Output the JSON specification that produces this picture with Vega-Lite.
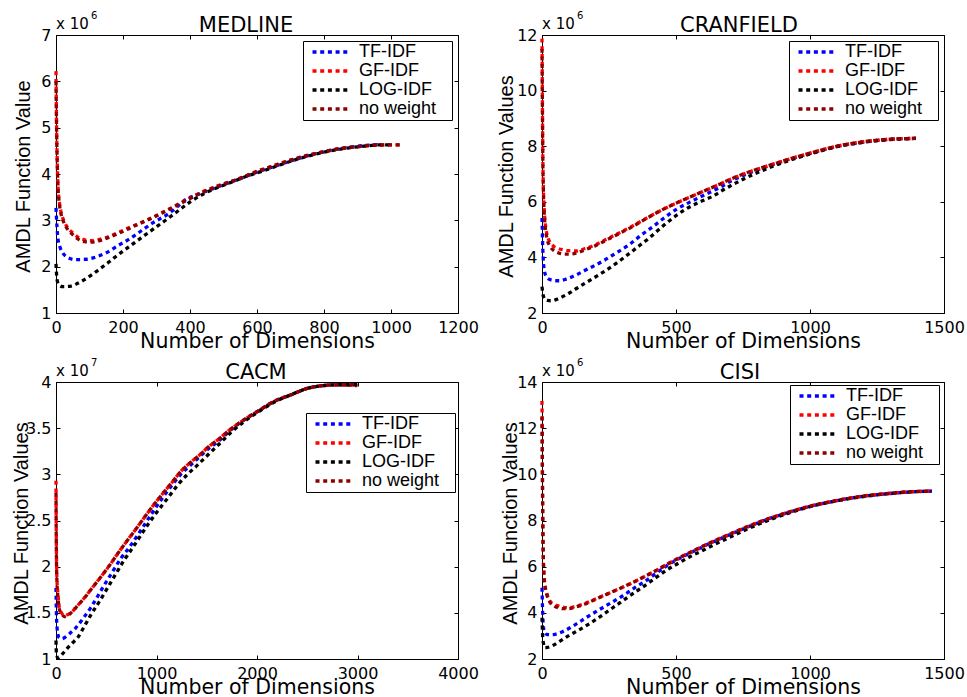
{
"$schema": "https://vega.github.io/schema/vega-lite/v6.json",
"background": "white",
"padding": {"left": 10, "top": 10, "right": 5, "bottom": 0},
"columns": 2,
"spacing": {"row": 69, "column": 84},
"bounds": "flush",
"datasets": {
"medline": [
{"method":"TF-IDF","x":0,"y":3.27},{"method":"TF-IDF","x":3,"y":2.85},{"method":"TF-IDF","x":6,"y":2.6},{"method":"TF-IDF","x":12,"y":2.42},{"method":"TF-IDF","x":20,"y":2.3},{"method":"TF-IDF","x":35,"y":2.2},{"method":"TF-IDF","x":60,"y":2.15},{"method":"TF-IDF","x":90,"y":2.16},{"method":"TF-IDF","x":120,"y":2.21},{"method":"TF-IDF","x":150,"y":2.3},{"method":"TF-IDF","x":184,"y":2.45},{"method":"TF-IDF","x":220,"y":2.6},{"method":"TF-IDF","x":254,"y":2.77},{"method":"TF-IDF","x":290,"y":2.95},{"method":"TF-IDF","x":333,"y":3.13},{"method":"TF-IDF","x":360,"y":3.28},{"method":"TF-IDF","x":383,"y":3.43},{"method":"TF-IDF","x":420,"y":3.55},{"method":"TF-IDF","x":460,"y":3.66},{"method":"TF-IDF","x":500,"y":3.77},{"method":"TF-IDF","x":550,"y":3.9},{"method":"TF-IDF","x":600,"y":4.04},{"method":"TF-IDF","x":650,"y":4.16},{"method":"TF-IDF","x":700,"y":4.28},{"method":"TF-IDF","x":750,"y":4.39},{"method":"TF-IDF","x":800,"y":4.48},{"method":"TF-IDF","x":850,"y":4.55},{"method":"TF-IDF","x":900,"y":4.6},{"method":"TF-IDF","x":950,"y":4.63},{"method":"TF-IDF","x":970,"y":4.64},
{"method":"GF-IDF","x":0,"y":6.22},{"method":"GF-IDF","x":1,"y":5.5},{"method":"GF-IDF","x":2,"y":4.9},{"method":"GF-IDF","x":4,"y":4.2},{"method":"GF-IDF","x":6,"y":3.75},{"method":"GF-IDF","x":10,"y":3.4},{"method":"GF-IDF","x":15,"y":3.18},{"method":"GF-IDF","x":25,"y":2.97},{"method":"GF-IDF","x":35,"y":2.84},{"method":"GF-IDF","x":50,"y":2.73},{"method":"GF-IDF","x":65,"y":2.64},{"method":"GF-IDF","x":85,"y":2.58},{"method":"GF-IDF","x":104,"y":2.56},{"method":"GF-IDF","x":130,"y":2.59},{"method":"GF-IDF","x":154,"y":2.64},{"method":"GF-IDF","x":184,"y":2.73},{"method":"GF-IDF","x":214,"y":2.83},{"method":"GF-IDF","x":250,"y":2.94},{"method":"GF-IDF","x":284,"y":3.05},{"method":"GF-IDF","x":320,"y":3.18},{"method":"GF-IDF","x":363,"y":3.34},{"method":"GF-IDF","x":400,"y":3.48},{"method":"GF-IDF","x":433,"y":3.6},{"method":"GF-IDF","x":470,"y":3.71},{"method":"GF-IDF","x":500,"y":3.79},{"method":"GF-IDF","x":532,"y":3.86},{"method":"GF-IDF","x":572,"y":3.98},{"method":"GF-IDF","x":600,"y":4.06},{"method":"GF-IDF","x":650,"y":4.18},{"method":"GF-IDF","x":700,"y":4.3},{"method":"GF-IDF","x":750,"y":4.4},{"method":"GF-IDF","x":800,"y":4.48},{"method":"GF-IDF","x":850,"y":4.55},{"method":"GF-IDF","x":900,"y":4.59},{"method":"GF-IDF","x":950,"y":4.62},{"method":"GF-IDF","x":1000,"y":4.63},{"method":"GF-IDF","x":1030,"y":4.63},
{"method":"LOG-IDF","x":0,"y":2.06},{"method":"LOG-IDF","x":2,"y":1.8},{"method":"LOG-IDF","x":5,"y":1.66},{"method":"LOG-IDF","x":10,"y":1.6},{"method":"LOG-IDF","x":20,"y":1.57},{"method":"LOG-IDF","x":45,"y":1.58},{"method":"LOG-IDF","x":65,"y":1.64},{"method":"LOG-IDF","x":85,"y":1.72},{"method":"LOG-IDF","x":110,"y":1.84},{"method":"LOG-IDF","x":134,"y":1.97},{"method":"LOG-IDF","x":160,"y":2.11},{"method":"LOG-IDF","x":184,"y":2.25},{"method":"LOG-IDF","x":220,"y":2.44},{"method":"LOG-IDF","x":254,"y":2.62},{"method":"LOG-IDF","x":290,"y":2.81},{"method":"LOG-IDF","x":323,"y":2.98},{"method":"LOG-IDF","x":360,"y":3.18},{"method":"LOG-IDF","x":403,"y":3.41},{"method":"LOG-IDF","x":440,"y":3.57},{"method":"LOG-IDF","x":483,"y":3.71},{"method":"LOG-IDF","x":530,"y":3.84},{"method":"LOG-IDF","x":572,"y":3.96},{"method":"LOG-IDF","x":620,"y":4.07},{"method":"LOG-IDF","x":670,"y":4.2},{"method":"LOG-IDF","x":720,"y":4.32},{"method":"LOG-IDF","x":770,"y":4.42},{"method":"LOG-IDF","x":820,"y":4.5},{"method":"LOG-IDF","x":870,"y":4.56},{"method":"LOG-IDF","x":920,"y":4.6},{"method":"LOG-IDF","x":970,"y":4.63},{"method":"LOG-IDF","x":1000,"y":4.63},
{"method":"no weight","x":0,"y":6.0},{"method":"no weight","x":1,"y":5.4},{"method":"no weight","x":2,"y":4.85},{"method":"no weight","x":4,"y":4.15},{"method":"no weight","x":6,"y":3.72},{"method":"no weight","x":10,"y":3.36},{"method":"no weight","x":15,"y":3.14},{"method":"no weight","x":25,"y":2.93},{"method":"no weight","x":35,"y":2.8},{"method":"no weight","x":50,"y":2.69},{"method":"no weight","x":65,"y":2.6},{"method":"no weight","x":85,"y":2.54},{"method":"no weight","x":104,"y":2.53},{"method":"no weight","x":130,"y":2.56},{"method":"no weight","x":154,"y":2.62},{"method":"no weight","x":184,"y":2.71},{"method":"no weight","x":214,"y":2.81},{"method":"no weight","x":250,"y":2.93},{"method":"no weight","x":284,"y":3.04},{"method":"no weight","x":320,"y":3.17},{"method":"no weight","x":363,"y":3.33},{"method":"no weight","x":400,"y":3.47},{"method":"no weight","x":433,"y":3.59},{"method":"no weight","x":470,"y":3.7},{"method":"no weight","x":500,"y":3.78},{"method":"no weight","x":532,"y":3.86},{"method":"no weight","x":572,"y":3.97},{"method":"no weight","x":600,"y":4.05},{"method":"no weight","x":650,"y":4.18},{"method":"no weight","x":700,"y":4.3},{"method":"no weight","x":750,"y":4.4},{"method":"no weight","x":800,"y":4.48},{"method":"no weight","x":850,"y":4.55},{"method":"no weight","x":900,"y":4.59},{"method":"no weight","x":950,"y":4.62},{"method":"no weight","x":1000,"y":4.63},{"method":"no weight","x":1030,"y":4.63}
],
"cranfield": [
{"method":"TF-IDF","x":0,"y":5.42},{"method":"TF-IDF","x":3,"y":4.3},{"method":"TF-IDF","x":6,"y":3.75},{"method":"TF-IDF","x":9,"y":3.51},{"method":"TF-IDF","x":15,"y":3.33},{"method":"TF-IDF","x":27,"y":3.21},{"method":"TF-IDF","x":45,"y":3.17},{"method":"TF-IDF","x":65,"y":3.16},{"method":"TF-IDF","x":90,"y":3.22},{"method":"TF-IDF","x":127,"y":3.37},{"method":"TF-IDF","x":170,"y":3.58},{"method":"TF-IDF","x":226,"y":3.86},{"method":"TF-IDF","x":270,"y":4.12},{"method":"TF-IDF","x":326,"y":4.46},{"method":"TF-IDF","x":370,"y":4.8},{"method":"TF-IDF","x":413,"y":5.1},{"method":"TF-IDF","x":460,"y":5.45},{"method":"TF-IDF","x":500,"y":5.72},{"method":"TF-IDF","x":550,"y":5.98},{"method":"TF-IDF","x":600,"y":6.22},{"method":"TF-IDF","x":660,"y":6.5},{"method":"TF-IDF","x":712,"y":6.78},{"method":"TF-IDF","x":780,"y":7.06},{"method":"TF-IDF","x":854,"y":7.32},{"method":"TF-IDF","x":920,"y":7.52},{"method":"TF-IDF","x":1000,"y":7.74},{"method":"TF-IDF","x":1100,"y":7.99},{"method":"TF-IDF","x":1200,"y":8.15},{"method":"TF-IDF","x":1300,"y":8.25},{"method":"TF-IDF","x":1395,"y":8.28},
{"method":"GF-IDF","x":0,"y":11.87},{"method":"GF-IDF","x":1,"y":10.5},{"method":"GF-IDF","x":2,"y":9.0},{"method":"GF-IDF","x":3,"y":7.8},{"method":"GF-IDF","x":5,"y":6.6},{"method":"GF-IDF","x":8,"y":5.8},{"method":"GF-IDF","x":12,"y":5.25},{"method":"GF-IDF","x":18,"y":4.85},{"method":"GF-IDF","x":28,"y":4.58},{"method":"GF-IDF","x":40,"y":4.43},{"method":"GF-IDF","x":60,"y":4.32},{"method":"GF-IDF","x":80,"y":4.27},{"method":"GF-IDF","x":100,"y":4.24},{"method":"GF-IDF","x":127,"y":4.23},{"method":"GF-IDF","x":160,"y":4.32},{"method":"GF-IDF","x":201,"y":4.46},{"method":"GF-IDF","x":240,"y":4.65},{"method":"GF-IDF","x":288,"y":4.88},{"method":"GF-IDF","x":340,"y":5.14},{"method":"GF-IDF","x":388,"y":5.4},{"method":"GF-IDF","x":440,"y":5.67},{"method":"GF-IDF","x":500,"y":5.95},{"method":"GF-IDF","x":550,"y":6.16},{"method":"GF-IDF","x":600,"y":6.37},{"method":"GF-IDF","x":660,"y":6.62},{"method":"GF-IDF","x":712,"y":6.85},{"method":"GF-IDF","x":780,"y":7.1},{"method":"GF-IDF","x":854,"y":7.33},{"method":"GF-IDF","x":920,"y":7.53},{"method":"GF-IDF","x":1000,"y":7.75},{"method":"GF-IDF","x":1100,"y":8.0},{"method":"GF-IDF","x":1200,"y":8.16},{"method":"GF-IDF","x":1300,"y":8.25},{"method":"GF-IDF","x":1395,"y":8.28},
{"method":"LOG-IDF","x":0,"y":2.95},{"method":"LOG-IDF","x":3,"y":2.7},{"method":"LOG-IDF","x":7,"y":2.55},{"method":"LOG-IDF","x":12,"y":2.48},{"method":"LOG-IDF","x":21,"y":2.45},{"method":"LOG-IDF","x":35,"y":2.44},{"method":"LOG-IDF","x":52,"y":2.48},{"method":"LOG-IDF","x":75,"y":2.58},{"method":"LOG-IDF","x":102,"y":2.72},{"method":"LOG-IDF","x":130,"y":2.89},{"method":"LOG-IDF","x":164,"y":3.09},{"method":"LOG-IDF","x":210,"y":3.36},{"method":"LOG-IDF","x":251,"y":3.61},{"method":"LOG-IDF","x":300,"y":3.95},{"method":"LOG-IDF","x":351,"y":4.33},{"method":"LOG-IDF","x":400,"y":4.7},{"method":"LOG-IDF","x":450,"y":5.12},{"method":"LOG-IDF","x":500,"y":5.5},{"method":"LOG-IDF","x":537,"y":5.74},{"method":"LOG-IDF","x":590,"y":6.0},{"method":"LOG-IDF","x":637,"y":6.2},{"method":"LOG-IDF","x":680,"y":6.45},{"method":"LOG-IDF","x":724,"y":6.68},{"method":"LOG-IDF","x":780,"y":6.95},{"method":"LOG-IDF","x":854,"y":7.25},{"method":"LOG-IDF","x":920,"y":7.48},{"method":"LOG-IDF","x":1000,"y":7.72},{"method":"LOG-IDF","x":1100,"y":7.98},{"method":"LOG-IDF","x":1200,"y":8.14},{"method":"LOG-IDF","x":1300,"y":8.24},{"method":"LOG-IDF","x":1395,"y":8.28},
{"method":"no weight","x":0,"y":11.5},{"method":"no weight","x":1,"y":10.2},{"method":"no weight","x":2,"y":8.8},{"method":"no weight","x":3,"y":7.6},{"method":"no weight","x":5,"y":6.45},{"method":"no weight","x":8,"y":5.65},{"method":"no weight","x":12,"y":5.1},{"method":"no weight","x":18,"y":4.7},{"method":"no weight","x":28,"y":4.43},{"method":"no weight","x":40,"y":4.28},{"method":"no weight","x":60,"y":4.17},{"method":"no weight","x":80,"y":4.12},{"method":"no weight","x":100,"y":4.12},{"method":"no weight","x":127,"y":4.15},{"method":"no weight","x":160,"y":4.27},{"method":"no weight","x":201,"y":4.43},{"method":"no weight","x":240,"y":4.62},{"method":"no weight","x":288,"y":4.86},{"method":"no weight","x":340,"y":5.12},{"method":"no weight","x":388,"y":5.39},{"method":"no weight","x":440,"y":5.67},{"method":"no weight","x":500,"y":5.95},{"method":"no weight","x":550,"y":6.16},{"method":"no weight","x":600,"y":6.37},{"method":"no weight","x":660,"y":6.62},{"method":"no weight","x":712,"y":6.85},{"method":"no weight","x":780,"y":7.1},{"method":"no weight","x":854,"y":7.33},{"method":"no weight","x":920,"y":7.53},{"method":"no weight","x":1000,"y":7.75},{"method":"no weight","x":1100,"y":8.0},{"method":"no weight","x":1200,"y":8.16},{"method":"no weight","x":1300,"y":8.25},{"method":"no weight","x":1395,"y":8.28}
],
"cacm": [
{"method":"TF-IDF","x":0,"y":1.77},{"method":"TF-IDF","x":5,"y":1.45},{"method":"TF-IDF","x":12,"y":1.32},{"method":"TF-IDF","x":20,"y":1.26},{"method":"TF-IDF","x":33,"y":1.23},{"method":"TF-IDF","x":60,"y":1.22},{"method":"TF-IDF","x":83,"y":1.23},{"method":"TF-IDF","x":140,"y":1.28},{"method":"TF-IDF","x":199,"y":1.34},{"method":"TF-IDF","x":270,"y":1.44},{"method":"TF-IDF","x":348,"y":1.56},{"method":"TF-IDF","x":410,"y":1.67},{"method":"TF-IDF","x":480,"y":1.8},{"method":"TF-IDF","x":560,"y":1.94},{"method":"TF-IDF","x":646,"y":2.09},{"method":"TF-IDF","x":730,"y":2.21},{"method":"TF-IDF","x":811,"y":2.34},{"method":"TF-IDF","x":890,"y":2.47},{"method":"TF-IDF","x":980,"y":2.62},{"method":"TF-IDF","x":1076,"y":2.77},{"method":"TF-IDF","x":1160,"y":2.89},{"method":"TF-IDF","x":1241,"y":3.0},{"method":"TF-IDF","x":1340,"y":3.1},{"method":"TF-IDF","x":1440,"y":3.2},{"method":"TF-IDF","x":1520,"y":3.28},{"method":"TF-IDF","x":1606,"y":3.35},{"method":"TF-IDF","x":1738,"y":3.48},{"method":"TF-IDF","x":1870,"y":3.59},{"method":"TF-IDF","x":2003,"y":3.68},{"method":"TF-IDF","x":2170,"y":3.79},{"method":"TF-IDF","x":2334,"y":3.86},{"method":"TF-IDF","x":2500,"y":3.93},{"method":"TF-IDF","x":2650,"y":3.96},{"method":"TF-IDF","x":2800,"y":3.97},{"method":"TF-IDF","x":2950,"y":3.97},
{"method":"GF-IDF","x":0,"y":2.93},{"method":"GF-IDF","x":2,"y":2.5},{"method":"GF-IDF","x":5,"y":2.1},{"method":"GF-IDF","x":10,"y":1.85},{"method":"GF-IDF","x":20,"y":1.7},{"method":"GF-IDF","x":33,"y":1.56},{"method":"GF-IDF","x":55,"y":1.5},{"method":"GF-IDF","x":83,"y":1.47},{"method":"GF-IDF","x":115,"y":1.48},{"method":"GF-IDF","x":149,"y":1.5},{"method":"GF-IDF","x":200,"y":1.56},{"method":"GF-IDF","x":281,"y":1.66},{"method":"GF-IDF","x":360,"y":1.77},{"method":"GF-IDF","x":447,"y":1.89},{"method":"GF-IDF","x":530,"y":2.01},{"method":"GF-IDF","x":613,"y":2.14},{"method":"GF-IDF","x":700,"y":2.27},{"method":"GF-IDF","x":790,"y":2.4},{"method":"GF-IDF","x":877,"y":2.53},{"method":"GF-IDF","x":980,"y":2.68},{"method":"GF-IDF","x":1076,"y":2.81},{"method":"GF-IDF","x":1160,"y":2.92},{"method":"GF-IDF","x":1241,"y":3.03},{"method":"GF-IDF","x":1340,"y":3.13},{"method":"GF-IDF","x":1440,"y":3.22},{"method":"GF-IDF","x":1520,"y":3.3},{"method":"GF-IDF","x":1606,"y":3.37},{"method":"GF-IDF","x":1738,"y":3.49},{"method":"GF-IDF","x":1870,"y":3.59},{"method":"GF-IDF","x":2003,"y":3.68},{"method":"GF-IDF","x":2170,"y":3.79},{"method":"GF-IDF","x":2334,"y":3.86},{"method":"GF-IDF","x":2500,"y":3.93},{"method":"GF-IDF","x":2650,"y":3.96},{"method":"GF-IDF","x":2800,"y":3.97},{"method":"GF-IDF","x":3000,"y":3.96},
{"method":"LOG-IDF","x":0,"y":1.2},{"method":"LOG-IDF","x":3,"y":1.08},{"method":"LOG-IDF","x":8,"y":1.03},{"method":"LOG-IDF","x":23,"y":1.01},{"method":"LOG-IDF","x":60,"y":1.05},{"method":"LOG-IDF","x":116,"y":1.12},{"method":"LOG-IDF","x":160,"y":1.17},{"method":"LOG-IDF","x":215,"y":1.23},{"method":"LOG-IDF","x":280,"y":1.35},{"method":"LOG-IDF","x":348,"y":1.48},{"method":"LOG-IDF","x":430,"y":1.62},{"method":"LOG-IDF","x":513,"y":1.77},{"method":"LOG-IDF","x":600,"y":1.93},{"method":"LOG-IDF","x":678,"y":2.07},{"method":"LOG-IDF","x":760,"y":2.2},{"method":"LOG-IDF","x":844,"y":2.34},{"method":"LOG-IDF","x":930,"y":2.48},{"method":"LOG-IDF","x":1010,"y":2.6},{"method":"LOG-IDF","x":1110,"y":2.74},{"method":"LOG-IDF","x":1208,"y":2.88},{"method":"LOG-IDF","x":1300,"y":2.99},{"method":"LOG-IDF","x":1407,"y":3.1},{"method":"LOG-IDF","x":1520,"y":3.22},{"method":"LOG-IDF","x":1606,"y":3.31},{"method":"LOG-IDF","x":1738,"y":3.45},{"method":"LOG-IDF","x":1870,"y":3.57},{"method":"LOG-IDF","x":2003,"y":3.67},{"method":"LOG-IDF","x":2170,"y":3.78},{"method":"LOG-IDF","x":2334,"y":3.86},{"method":"LOG-IDF","x":2500,"y":3.93},{"method":"LOG-IDF","x":2650,"y":3.96},{"method":"LOG-IDF","x":2800,"y":3.97},{"method":"LOG-IDF","x":3000,"y":3.97},
{"method":"no weight","x":0,"y":2.8},{"method":"no weight","x":2,"y":2.42},{"method":"no weight","x":5,"y":2.05},{"method":"no weight","x":10,"y":1.82},{"method":"no weight","x":20,"y":1.67},{"method":"no weight","x":33,"y":1.54},{"method":"no weight","x":55,"y":1.49},{"method":"no weight","x":83,"y":1.46},{"method":"no weight","x":115,"y":1.47},{"method":"no weight","x":149,"y":1.5},{"method":"no weight","x":200,"y":1.56},{"method":"no weight","x":281,"y":1.66},{"method":"no weight","x":360,"y":1.77},{"method":"no weight","x":447,"y":1.89},{"method":"no weight","x":530,"y":2.01},{"method":"no weight","x":613,"y":2.14},{"method":"no weight","x":700,"y":2.27},{"method":"no weight","x":790,"y":2.4},{"method":"no weight","x":877,"y":2.53},{"method":"no weight","x":980,"y":2.68},{"method":"no weight","x":1076,"y":2.81},{"method":"no weight","x":1160,"y":2.92},{"method":"no weight","x":1241,"y":3.03},{"method":"no weight","x":1340,"y":3.13},{"method":"no weight","x":1440,"y":3.22},{"method":"no weight","x":1520,"y":3.3},{"method":"no weight","x":1606,"y":3.37},{"method":"no weight","x":1738,"y":3.49},{"method":"no weight","x":1870,"y":3.59},{"method":"no weight","x":2003,"y":3.68},{"method":"no weight","x":2170,"y":3.79},{"method":"no weight","x":2334,"y":3.86},{"method":"no weight","x":2500,"y":3.93},{"method":"no weight","x":2650,"y":3.96},{"method":"no weight","x":2800,"y":3.97},{"method":"no weight","x":2990,"y":3.97}
],
"cisi": [
{"method":"TF-IDF","x":0,"y":5.09},{"method":"TF-IDF","x":2,"y":4.2},{"method":"TF-IDF","x":5,"y":3.4},{"method":"TF-IDF","x":10,"y":3.15},{"method":"TF-IDF","x":17,"y":3.07},{"method":"TF-IDF","x":30,"y":3.05},{"method":"TF-IDF","x":49,"y":3.07},{"method":"TF-IDF","x":80,"y":3.2},{"method":"TF-IDF","x":123,"y":3.48},{"method":"TF-IDF","x":170,"y":3.83},{"method":"TF-IDF","x":223,"y":4.2},{"method":"TF-IDF","x":270,"y":4.52},{"method":"TF-IDF","x":310,"y":4.8},{"method":"TF-IDF","x":350,"y":5.12},{"method":"TF-IDF","x":384,"y":5.36},{"method":"TF-IDF","x":430,"y":5.75},{"method":"TF-IDF","x":471,"y":6.08},{"method":"TF-IDF","x":520,"y":6.4},{"method":"TF-IDF","x":571,"y":6.7},{"method":"TF-IDF","x":630,"y":7.03},{"method":"TF-IDF","x":695,"y":7.36},{"method":"TF-IDF","x":770,"y":7.73},{"method":"TF-IDF","x":850,"y":8.09},{"method":"TF-IDF","x":920,"y":8.35},{"method":"TF-IDF","x":1000,"y":8.61},{"method":"TF-IDF","x":1100,"y":8.86},{"method":"TF-IDF","x":1200,"y":9.05},{"method":"TF-IDF","x":1300,"y":9.17},{"method":"TF-IDF","x":1380,"y":9.24},{"method":"TF-IDF","x":1454,"y":9.27},
{"method":"GF-IDF","x":0,"y":13.18},{"method":"GF-IDF","x":1,"y":11.5},{"method":"GF-IDF","x":2,"y":9.5},{"method":"GF-IDF","x":3,"y":8.0},{"method":"GF-IDF","x":5,"y":6.4},{"method":"GF-IDF","x":8,"y":5.6},{"method":"GF-IDF","x":11,"y":5.24},{"method":"GF-IDF","x":18,"y":4.85},{"method":"GF-IDF","x":30,"y":4.51},{"method":"GF-IDF","x":45,"y":4.37},{"method":"GF-IDF","x":61,"y":4.3},{"method":"GF-IDF","x":80,"y":4.24},{"method":"GF-IDF","x":98,"y":4.22},{"method":"GF-IDF","x":125,"y":4.28},{"method":"GF-IDF","x":160,"y":4.4},{"method":"GF-IDF","x":190,"y":4.55},{"method":"GF-IDF","x":223,"y":4.72},{"method":"GF-IDF","x":260,"y":4.9},{"method":"GF-IDF","x":297,"y":5.09},{"method":"GF-IDF","x":340,"y":5.32},{"method":"GF-IDF","x":384,"y":5.58},{"method":"GF-IDF","x":430,"y":5.86},{"method":"GF-IDF","x":471,"y":6.13},{"method":"GF-IDF","x":520,"y":6.43},{"method":"GF-IDF","x":571,"y":6.72},{"method":"GF-IDF","x":630,"y":7.05},{"method":"GF-IDF","x":695,"y":7.38},{"method":"GF-IDF","x":770,"y":7.75},{"method":"GF-IDF","x":850,"y":8.1},{"method":"GF-IDF","x":920,"y":8.36},{"method":"GF-IDF","x":1000,"y":8.62},{"method":"GF-IDF","x":1100,"y":8.87},{"method":"GF-IDF","x":1200,"y":9.06},{"method":"GF-IDF","x":1300,"y":9.18},{"method":"GF-IDF","x":1380,"y":9.25},{"method":"GF-IDF","x":1454,"y":9.27},
{"method":"LOG-IDF","x":0,"y":3.79},{"method":"LOG-IDF","x":2,"y":3.1},{"method":"LOG-IDF","x":5,"y":2.7},{"method":"LOG-IDF","x":11,"y":2.49},{"method":"LOG-IDF","x":20,"y":2.5},{"method":"LOG-IDF","x":36,"y":2.56},{"method":"LOG-IDF","x":60,"y":2.72},{"method":"LOG-IDF","x":98,"y":3.0},{"method":"LOG-IDF","x":135,"y":3.24},{"method":"LOG-IDF","x":173,"y":3.5},{"method":"LOG-IDF","x":210,"y":3.78},{"method":"LOG-IDF","x":247,"y":4.08},{"method":"LOG-IDF","x":290,"y":4.43},{"method":"LOG-IDF","x":335,"y":4.8},{"method":"LOG-IDF","x":380,"y":5.15},{"method":"LOG-IDF","x":422,"y":5.5},{"method":"LOG-IDF","x":465,"y":5.85},{"method":"LOG-IDF","x":509,"y":6.15},{"method":"LOG-IDF","x":550,"y":6.42},{"method":"LOG-IDF","x":596,"y":6.68},{"method":"LOG-IDF","x":645,"y":6.97},{"method":"LOG-IDF","x":695,"y":7.24},{"method":"LOG-IDF","x":770,"y":7.65},{"method":"LOG-IDF","x":850,"y":8.03},{"method":"LOG-IDF","x":920,"y":8.32},{"method":"LOG-IDF","x":1000,"y":8.6},{"method":"LOG-IDF","x":1100,"y":8.85},{"method":"LOG-IDF","x":1200,"y":9.04},{"method":"LOG-IDF","x":1300,"y":9.17},{"method":"LOG-IDF","x":1380,"y":9.24},{"method":"LOG-IDF","x":1454,"y":9.27},
{"method":"no weight","x":0,"y":12.5},{"method":"no weight","x":1,"y":11.0},{"method":"no weight","x":2,"y":9.2},{"method":"no weight","x":3,"y":7.8},{"method":"no weight","x":5,"y":6.3},{"method":"no weight","x":8,"y":5.5},{"method":"no weight","x":11,"y":5.15},{"method":"no weight","x":18,"y":4.78},{"method":"no weight","x":30,"y":4.45},{"method":"no weight","x":45,"y":4.3},{"method":"no weight","x":61,"y":4.22},{"method":"no weight","x":80,"y":4.18},{"method":"no weight","x":98,"y":4.18},{"method":"no weight","x":125,"y":4.25},{"method":"no weight","x":160,"y":4.38},{"method":"no weight","x":190,"y":4.53},{"method":"no weight","x":223,"y":4.71},{"method":"no weight","x":260,"y":4.9},{"method":"no weight","x":297,"y":5.09},{"method":"no weight","x":340,"y":5.32},{"method":"no weight","x":384,"y":5.58},{"method":"no weight","x":430,"y":5.86},{"method":"no weight","x":471,"y":6.13},{"method":"no weight","x":520,"y":6.43},{"method":"no weight","x":571,"y":6.72},{"method":"no weight","x":630,"y":7.05},{"method":"no weight","x":695,"y":7.38},{"method":"no weight","x":770,"y":7.75},{"method":"no weight","x":850,"y":8.1},{"method":"no weight","x":920,"y":8.36},{"method":"no weight","x":1000,"y":8.62},{"method":"no weight","x":1100,"y":8.87},{"method":"no weight","x":1200,"y":9.06},{"method":"no weight","x":1300,"y":9.18},{"method":"no weight","x":1380,"y":9.25},{"method":"no weight","x":1454,"y":9.27}
]
},
"concat": [
{
"width": 402, "height": 278,
"title": {"text": "MEDLINE", "dx": -11},
"data": {"name": "medline"},
"layer": [
{"mark": {"type": "line", "strokeWidth": 3.3, "strokeDash": [4, 3.7], "interpolate": "monotone"},
 "encoding": {
  "x": {"field": "x", "type": "quantitative", "scale": {"domain": [0, 1200], "nice": false, "zero": false}, "axis": {"values": [0, 200, 400, 600, 800, 1000, 1200], "format": "~f", "title": "Number of Dimensions", "titleY": 34, "titleBaseline": "alphabetic"}},
  "y": {"field": "y", "type": "quantitative", "scale": {"domain": [1, 7], "nice": false, "zero": false}, "axis": {"values": [1, 2, 3, 4, 5, 6, 7], "format": "~f", "title": "AMDL Function Value", "titleX": -33, "titleY": 141, "titleBaseline": "middle"}},
  "color": {"field": "method", "type": "nominal", "scale": {"domain": ["TF-IDF", "GF-IDF", "LOG-IDF", "no weight"], "range": ["#0000ff", "#ff0000", "#000000", "#8c0000"]}, "legend": {"title": " ", "legendX": 247, "legendY": 6}}
 }},
{"mark": {"type": "point", "opacity": 0},
 "encoding": {
  "x": {"field": "x", "type": "quantitative", "scale": {"domain": [0, 1200], "nice": false, "zero": false}, "axis": {"orient": "top", "values": [0, 200, 400, 600, 800, 1000, 1200], "labels": false, "domain": false, "title": null}},
  "y": {"field": "y", "type": "quantitative", "scale": {"domain": [1, 7], "nice": false, "zero": false}, "axis": {"orient": "right", "values": [1, 2, 3, 4, 5, 6, 7], "labels": false, "domain": false, "title": null}}
 }},
{"data": {"values": [{"base": "x 10", "exp": "6"}]},
 "mark": {"type": "text", "align": "left", "baseline": "alphabetic", "dy": -6, "fontSize": 15},
 "encoding": {"x": {"datum": 0, "type": "quantitative", "axis": null}, "y": {"datum": 7, "type": "quantitative", "axis": null}, "text": {"field": "base"}}},
{"data": {"values": [{"base": "x 10", "exp": "6"}]},
 "mark": {"type": "text", "align": "left", "baseline": "alphabetic", "dx": 35, "dy": -16, "fontSize": 10},
 "encoding": {"x": {"datum": 0, "type": "quantitative", "axis": null}, "y": {"datum": 7, "type": "quantitative", "axis": null}, "text": {"field": "exp"}}}
],
"resolve": {"axis": {"x": "independent", "y": "independent"}}
},
{
"width": 402, "height": 278,
"title": {"text": "CRANFIELD", "dx": -4},
"data": {"name": "cranfield"},
"layer": [
{"mark": {"type": "line", "strokeWidth": 3.3, "strokeDash": [4, 3.7], "interpolate": "monotone"},
 "encoding": {
  "x": {"field": "x", "type": "quantitative", "scale": {"domain": [0, 1500], "nice": false, "zero": false}, "axis": {"values": [0, 500, 1000, 1500], "format": "~f", "title": "Number of Dimensions", "titleY": 34, "titleBaseline": "alphabetic"}},
  "y": {"field": "y", "type": "quantitative", "scale": {"domain": [2, 12], "nice": false, "zero": false}, "axis": {"values": [2, 4, 6, 8, 10, 12], "format": "~f", "title": "AMDL Function Values", "titleX": -36, "titleY": 141, "titleBaseline": "middle"}},
  "color": {"field": "method", "type": "nominal", "scale": {"domain": ["TF-IDF", "GF-IDF", "LOG-IDF", "no weight"], "range": ["#0000ff", "#ff0000", "#000000", "#8c0000"]}, "legend": {"title": " ", "legendX": 247, "legendY": 6}}
 }},
{"mark": {"type": "point", "opacity": 0},
 "encoding": {
  "x": {"field": "x", "type": "quantitative", "scale": {"domain": [0, 1500], "nice": false, "zero": false}, "axis": {"orient": "top", "values": [0, 500, 1000, 1500], "labels": false, "domain": false, "title": null}},
  "y": {"field": "y", "type": "quantitative", "scale": {"domain": [2, 12], "nice": false, "zero": false}, "axis": {"orient": "right", "values": [2, 4, 6, 8, 10, 12], "labels": false, "domain": false, "title": null}}
 }},
{"data": {"values": [{"base": "x 10", "exp": "6"}]},
 "mark": {"type": "text", "align": "left", "baseline": "alphabetic", "dy": -6, "fontSize": 15},
 "encoding": {"x": {"datum": 0, "type": "quantitative", "axis": null}, "y": {"datum": 12, "type": "quantitative", "axis": null}, "text": {"field": "base"}}},
{"data": {"values": [{"base": "x 10", "exp": "6"}]},
 "mark": {"type": "text", "align": "left", "baseline": "alphabetic", "dx": 35, "dy": -16, "fontSize": 10},
 "encoding": {"x": {"datum": 0, "type": "quantitative", "axis": null}, "y": {"datum": 12, "type": "quantitative", "axis": null}, "text": {"field": "exp"}}}
],
"resolve": {"axis": {"x": "independent", "y": "independent"}}
},
{
"width": 402, "height": 277,
"title": {"text": "CACM", "dx": -1},
"data": {"name": "cacm"},
"layer": [
{"mark": {"type": "line", "strokeWidth": 3.3, "strokeDash": [4, 3.7], "interpolate": "monotone"},
 "encoding": {
  "x": {"field": "x", "type": "quantitative", "scale": {"domain": [0, 4000], "nice": false, "zero": false}, "axis": {"values": [0, 1000, 2000, 3000, 4000], "format": "~f", "title": "Number of Dimensions", "titleY": 34, "titleBaseline": "alphabetic"}},
  "y": {"field": "y", "type": "quantitative", "scale": {"domain": [1, 4], "nice": false, "zero": false}, "axis": {"values": [1, 1.5, 2, 2.5, 3, 3.5, 4], "format": "~f", "title": "AMDL Function Values", "titleX": -35, "titleY": 141, "titleBaseline": "middle"}},
  "color": {"field": "method", "type": "nominal", "scale": {"domain": ["TF-IDF", "GF-IDF", "LOG-IDF", "no weight"], "range": ["#0000ff", "#ff0000", "#000000", "#8c0000"]}, "legend": {"title": " ", "legendX": 250, "legendY": 31}}
 }},
{"mark": {"type": "point", "opacity": 0},
 "encoding": {
  "x": {"field": "x", "type": "quantitative", "scale": {"domain": [0, 4000], "nice": false, "zero": false}, "axis": {"orient": "top", "values": [0, 1000, 2000, 3000, 4000], "labels": false, "domain": false, "title": null}},
  "y": {"field": "y", "type": "quantitative", "scale": {"domain": [1, 4], "nice": false, "zero": false}, "axis": {"orient": "right", "values": [1, 1.5, 2, 2.5, 3, 3.5, 4], "labels": false, "domain": false, "title": null}}
 }},
{"data": {"values": [{"base": "x 10", "exp": "7"}]},
 "mark": {"type": "text", "align": "left", "baseline": "alphabetic", "dy": -6, "fontSize": 15},
 "encoding": {"x": {"datum": 0, "type": "quantitative", "axis": null}, "y": {"datum": 4, "type": "quantitative", "axis": null}, "text": {"field": "base"}}},
{"data": {"values": [{"base": "x 10", "exp": "7"}]},
 "mark": {"type": "text", "align": "left", "baseline": "alphabetic", "dx": 35, "dy": -16, "fontSize": 10},
 "encoding": {"x": {"datum": 0, "type": "quantitative", "axis": null}, "y": {"datum": 4, "type": "quantitative", "axis": null}, "text": {"field": "exp"}}}
],
"resolve": {"axis": {"x": "independent", "y": "independent"}}
},
{
"width": 402, "height": 277,
"title": {"text": "CISI", "dx": -3},
"data": {"name": "cisi"},
"layer": [
{"mark": {"type": "line", "strokeWidth": 3.3, "strokeDash": [4, 3.7], "interpolate": "monotone"},
 "encoding": {
  "x": {"field": "x", "type": "quantitative", "scale": {"domain": [0, 1500], "nice": false, "zero": false}, "axis": {"values": [0, 500, 1000, 1500], "format": "~f", "title": "Number of Dimensions", "titleY": 34, "titleBaseline": "alphabetic"}},
  "y": {"field": "y", "type": "quantitative", "scale": {"domain": [2, 14], "nice": false, "zero": false}, "axis": {"values": [2, 4, 6, 8, 10, 12, 14], "format": "~f", "title": "AMDL Function Values", "titleX": -32, "titleY": 141, "titleBaseline": "middle"}},
  "color": {"field": "method", "type": "nominal", "scale": {"domain": ["TF-IDF", "GF-IDF", "LOG-IDF", "no weight"], "range": ["#0000ff", "#ff0000", "#000000", "#8c0000"]}, "legend": {"title": " ", "legendX": 248, "legendY": 3}}
 }},
{"mark": {"type": "point", "opacity": 0},
 "encoding": {
  "x": {"field": "x", "type": "quantitative", "scale": {"domain": [0, 1500], "nice": false, "zero": false}, "axis": {"orient": "top", "values": [0, 500, 1000, 1500], "labels": false, "domain": false, "title": null}},
  "y": {"field": "y", "type": "quantitative", "scale": {"domain": [2, 14], "nice": false, "zero": false}, "axis": {"orient": "right", "values": [2, 4, 6, 8, 10, 12, 14], "labels": false, "domain": false, "title": null}}
 }},
{"data": {"values": [{"base": "x 10", "exp": "6"}]},
 "mark": {"type": "text", "align": "left", "baseline": "alphabetic", "dy": -6, "fontSize": 15},
 "encoding": {"x": {"datum": 0, "type": "quantitative", "axis": null}, "y": {"datum": 14, "type": "quantitative", "axis": null}, "text": {"field": "base"}}},
{"data": {"values": [{"base": "x 10", "exp": "6"}]},
 "mark": {"type": "text", "align": "left", "baseline": "alphabetic", "dx": 35, "dy": -16, "fontSize": 10},
 "encoding": {"x": {"datum": 0, "type": "quantitative", "axis": null}, "y": {"datum": 14, "type": "quantitative", "axis": null}, "text": {"field": "exp"}}}
],
"resolve": {"axis": {"x": "independent", "y": "independent"}}
}
],
"resolve": {"scale": {"x": "independent", "y": "independent", "color": "independent"}, "legend": {"color": "independent"}},
"config": {
"font": "DejaVu Sans",
"view": {"stroke": "#000000", "strokeWidth": 1},
"text": {"font": "DejaVu Sans", "color": "#000000"},
"axis": {"domainColor": "#000000", "tickColor": "#000000", "tickSize": -4, "labelColor": "#000000", "labelFont": "DejaVu Sans", "labelFontSize": 16, "titleFontWeight": "normal", "titleColor": "#000000", "grid": false, "labelFlush": false, "labelOverlap": false},
"axisX": {"labelPadding": 10, "titleFont": "DejaVu Sans", "titleFontSize": 20.5},
"axisY": {"labelPadding": 9, "titleFont": "Liberation Sans", "titleFontSize": 20},
"title": {"font": "DejaVu Sans", "fontSize": 21, "fontWeight": "normal", "color": "#000000", "anchor": "middle", "frame": "group", "baseline": "alphabetic", "offset": -25},
"legend": {"orient": "none", "strokeColor": "#000000", "fillColor": "#ffffff", "padding": 2, "symbolType": "M-3.5,0L3.5,0", "symbolSize": 100, "symbolStrokeWidth": 3.3, "symbolDash": [4, 3.7], "symbolOffset": 16, "labelOffset": 20, "labelFont": "Liberation Sans", "labelFontSize": 18, "labelColor": "#000000", "rowPadding": 1, "titleOrient": "right", "titlePadding": 14, "titleFontSize": 10}
}
}
